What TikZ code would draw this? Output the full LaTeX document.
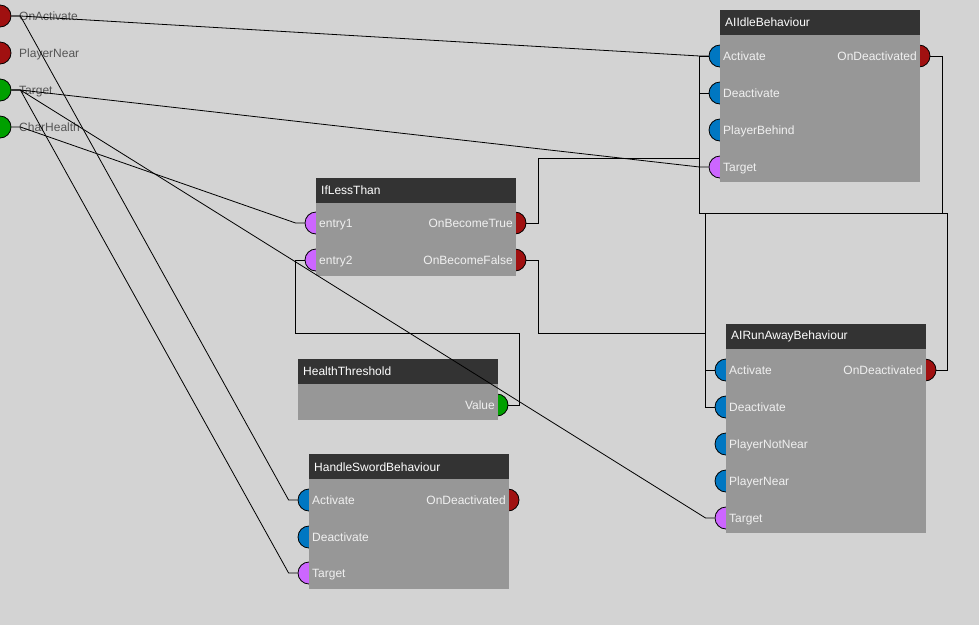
\documentclass[tikz,border=0pt]{standalone}
\usepackage{fontspec}
\setmainfont{Liberation Sans}
\definecolor{bgGray}{HTML}{D3D3D3}
\definecolor{hdrGray}{HTML}{333333}
\definecolor{bodyGray}{HTML}{979797}
\definecolor{txtWhite}{HTML}{F0F0F0}
\definecolor{txtDark}{HTML}{555555}
\definecolor{portBlue}{HTML}{0077C2}
\definecolor{portPurple}{HTML}{CC66FF}
\definecolor{portRed}{HTML}{A01010}
\definecolor{portGreen}{HTML}{00A000}
\tikzset{
  port/.style={circle,draw=black,line width=0.8pt,minimum size=22pt,inner sep=0pt},
  body/.style={fill=bodyGray,anchor=north west,minimum width=200pt,inner sep=0pt},
  hdr/.style={fill=hdrGray,text=white,anchor=north west,text width=190pt,align=left,
    inner xsep=5pt,inner ysep=0pt,minimum height=25pt,font=\fontsize{12}{14}\selectfont},
  lbl/.style={text=txtWhite,inner sep=0pt,yshift=-4.5pt,font=\fontsize{12}{14}\selectfont},
  inlbl/.style={text=txtDark,anchor=base west,inner sep=0pt,yshift=-4.5pt,font=\fontsize{12}{14}\selectfont},
  wire/.style={draw=black,line width=0.8pt}
}
\begin{document}
\begin{tikzpicture}[x=1pt,y=-1pt]
\fill[bgGray] (0,0) rectangle (979,625);
\useasboundingbox (0,0) rectangle (979,625);

\node[port,fill=portRed] (inOnAct) at (0,16) {};
\node[port,fill=portRed] (inPlayerNear) at (0,53) {};
\node[port,fill=portGreen] (inTarget) at (0,90) {};
\node[port,fill=portGreen] (inCharHealth) at (0,127) {};
\node[inlbl] (inOnActL) at (19,16) {OnActivate};
\node[inlbl] (inPlayerNearL) at (19,53) {PlayerNear};
\node[inlbl] (inTargetL) at (19,90) {Target};
\node[inlbl] (inCharHealthL) at (19,127) {CharHealth};

\node[port,fill=portBlue] (idleAct) at (720,56) {};
\node[port,fill=portBlue] (idleDeact) at (720,93) {};
\node[port,fill=portBlue] (idleBehind) at (720,130) {};
\node[port,fill=portPurple] (idleTarget) at (720,167) {};
\node[port,fill=portRed] (idleOnDeact) at (919,56) {};
\node[body,minimum height=147pt] (idleBody) at (720,35) {};
\node[hdr] (idleHead) at (720,10) {AIIdleBehaviour};
\node[lbl,anchor=base west] (idleActL) at (723,56) {Activate};
\node[lbl,anchor=base west] (idleDeactL) at (723,93) {Deactivate};
\node[lbl,anchor=base west] (idleBehindL) at (723,130) {PlayerBehind};
\node[lbl,anchor=base west] (idleTargetL) at (723,167) {Target};
\node[lbl,anchor=base east] (idleOnDeactL) at (917,56) {OnDeactivated};

\node[port,fill=portPurple] (lessE1) at (316,223) {};
\node[port,fill=portPurple] (lessE2) at (316,260) {};
\node[port,fill=portRed] (lessTrue) at (515,223) {};
\node[port,fill=portRed] (lessFalse) at (515,260) {};
\node[body,minimum height=74pt] (lessBody) at (316,202) {};
\node[hdr] (lessHead) at (316,178) {IfLessThan};
\node[lbl,anchor=base west] (lessE1L) at (319,223) {entry1};
\node[lbl,anchor=base west] (lessE2L) at (319,260) {entry2};
\node[lbl,anchor=base east] (lessTrueL) at (513,223) {OnBecomeTrue};
\node[lbl,anchor=base east] (lessFalseL) at (513,260) {OnBecomeFalse};

\node[port,fill=portGreen] (hpValue) at (497,405) {};
\node[body,minimum height=37pt] (hpBody) at (298,383) {};
\node[hdr] (hpHead) at (298,359) {HealthThreshold};
\node[lbl,anchor=base east] (hpValueL) at (495,405) {Value};

\node[port,fill=portBlue] (swAct) at (309,500) {};
\node[port,fill=portBlue] (swDeact) at (309,537) {};
\node[port,fill=portPurple] (swTarget) at (309,573) {};
\node[port,fill=portRed] (swOnDeact) at (508,500) {};
\node[body,minimum height=110pt] (swBody) at (309,479) {};
\node[hdr] (swHead) at (309,454) {HandleSwordBehaviour};
\node[lbl,anchor=base west] (swActL) at (312,500) {Activate};
\node[lbl,anchor=base west] (swDeactL) at (312,537) {Deactivate};
\node[lbl,anchor=base west] (swTargetL) at (312,573) {Target};
\node[lbl,anchor=base east] (swOnDeactL) at (506,500) {OnDeactivated};

\node[port,fill=portBlue] (runAct) at (726,370) {};
\node[port,fill=portBlue] (runDeact) at (726,407) {};
\node[port,fill=portBlue] (runNotNear) at (726,444) {};
\node[port,fill=portBlue] (runNear) at (726,481) {};
\node[port,fill=portPurple] (runTarget) at (726,518) {};
\node[port,fill=portRed] (runOnDeact) at (925,370) {};
\node[body,minimum height=185pt] (runBody) at (726,348) {};
\node[hdr] (runHead) at (726,324) {AIRunAwayBehaviour};
\node[lbl,anchor=base west] (runActL) at (729,370) {Activate};
\node[lbl,anchor=base west] (runDeactL) at (729,407) {Deactivate};
\node[lbl,anchor=base west] (runNotNearL) at (729,444) {PlayerNotNear};
\node[lbl,anchor=base west] (runNearL) at (729,481) {PlayerNear};
\node[lbl,anchor=base west] (runTargetL) at (729,518) {Target};
\node[lbl,anchor=base east] (runOnDeactL) at (923,370) {OnDeactivated};

\draw[wire] (inOnAct.east) -- ++(9,0) -- ([xshift=-9pt]idleAct.west) -- (idleAct.west);
\draw[wire] (inOnAct.east) -- ++(9,0) -- ([xshift=-9pt]swAct.west) -- (swAct.west);
\draw[wire] (inTarget.east) -- ++(9,0) -- ([xshift=-9pt]idleTarget.west) -- (idleTarget.west);
\draw[wire] (inTarget.east) -- ++(9,0) -- ([xshift=-9pt]runTarget.west) -- (runTarget.west);
\draw[wire] (inTarget.east) -- ++(9,0) -- ([xshift=-9pt]swTarget.west) -- (swTarget.west);
\draw[wire] (inCharHealth.east) -- ++(9,0) -- ([xshift=-9pt]lessE1.west) -- (lessE1.west);

\draw[wire] (lessTrue.east) -- ++(12,0) -- ++(0,-65) -| ([xshift=-9pt]idleDeact.west) -- (idleDeact.west);
\draw[wire] (lessFalse.east) -- ++(12,0) -- ++(0,73) -| ([xshift=-9pt]runDeact.west) -- (runDeact.west);
\draw[wire] (hpValue.east) -- ++(11,0) -- ++(0,-72) -| ([xshift=-9pt]lessE2.west) -- (lessE2.west);
\draw[wire] (idleOnDeact.east) -- ++(12,0) -- ++(0,157) -| ([xshift=-9pt]runAct.west) -- (runAct.west);
\draw[wire] (runOnDeact.east) -- ++(11,0) -- ++(0,-157) -| ([xshift=-9pt]idleAct.west) -- (idleAct.west);
\end{tikzpicture}
\end{document}
